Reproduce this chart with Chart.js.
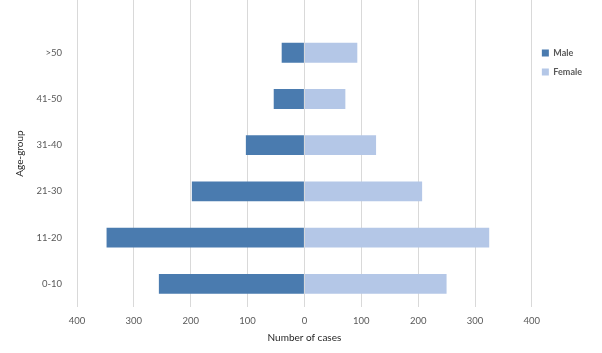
<!DOCTYPE html>
<html>
<head>
<meta charset="utf-8">
<script src="https://cdn.jsdelivr.net/npm/chart.js@4"></script>
<style>
  html, body { margin: 0; padding: 0; background: #fff; }
  #wrap { width: 602px; height: 353px; }
</style>
</head>
<body>
<div id="wrap"><canvas id="pyramid"></canvas></div>
<script>
// age groups, bottom to top
const ageGroups = ['0-10', '11-20', '21-30', '31-40', '41-50', '>50'];
const male = [256, 348, 198, 103, 54, 40];
const female = [250, 325, 207, 126, 72, 93];
const xTicks = [-400, -300, -200, -100, 0, 100, 200, 300, 400];

const textColor = '#595959';
const fontFamily = 'Lato, "Liberation Sans", sans-serif';

const ctx = document.getElementById('pyramid').getContext('2d');
new Chart(ctx, {
  type: 'bar',
  data: {
    datasets: [
      {
        label: 'Male',
        data: male.map((v, i) => ({ x: -v, y: i })),
        backgroundColor: '#4A7BAF',
        barPercentage: 0.43,
        categoryPercentage: 1
      },
      {
        label: 'Female',
        data: female.map((v, i) => ({ x: v, y: i })),
        backgroundColor: '#B4C7E7',
        barPercentage: 0.43,
        categoryPercentage: 1
      }
    ]
  },
  options: {
    indexAxis: 'y',
    responsive: true,
    maintainAspectRatio: false,
    animation: false,
    layout: { padding: { top: 0, right: 10, bottom: 0, left: 0 } },
    plugins: {
      tooltip: { enabled: false },
      legend: {
        position: 'right',
        align: 'start',
        title: { display: true, text: ' ', padding: { top: 24, bottom: 0 } },
        labels: {
          boxWidth: 7,
          boxHeight: 7,
          padding: 10,
          color: textColor,
          font: { family: fontFamily, size: 9, weight: 'bold' }
        }
      }
    },
    scales: {
      x: {
        stacked: true,
        min: -400,
        max: 400,
        afterBuildTicks: (scale) => { scale.ticks = xTicks.map(v => ({ value: v })); },
        grid: { color: '#D9D9D9', drawTicks: false },
        border: { display: false },
        ticks: {
          color: textColor,
          padding: 8,
          font: { family: fontFamily, size: 9.5 },
          callback: (v) => Math.abs(v)
        },
        title: {
          display: true,
          text: 'Number of cases',
          color: '#262626',
          padding: { top: 4, bottom: 9 },
          font: { family: fontFamily, size: 10 }
        },
        afterFit: (scale) => { scale.height = 46; }
      },
      y: {
        type: 'linear',
        stacked: true,
        offset: false,
        min: -0.5,
        max: 6.14,
        afterBuildTicks: (scale) => { scale.ticks = ageGroups.map((_, i) => ({ value: i })); },
        grid: { display: false },
        border: { display: false },
        ticks: {
          color: textColor,
          padding: 7,
          font: { family: fontFamily, size: 9.5 },
          callback: (v) => ageGroups[v]
        },
        title: {
          display: true,
          text: 'Age-group',
          color: '#262626',
          padding: { top: 14, bottom: 0 },
          font: { family: fontFamily, size: 10 }
        },
        afterFit: (scale) => { scale.width = 77; scale.paddingTop = 0; }
      }
    }
  }
});
</script>
</body>
</html>
